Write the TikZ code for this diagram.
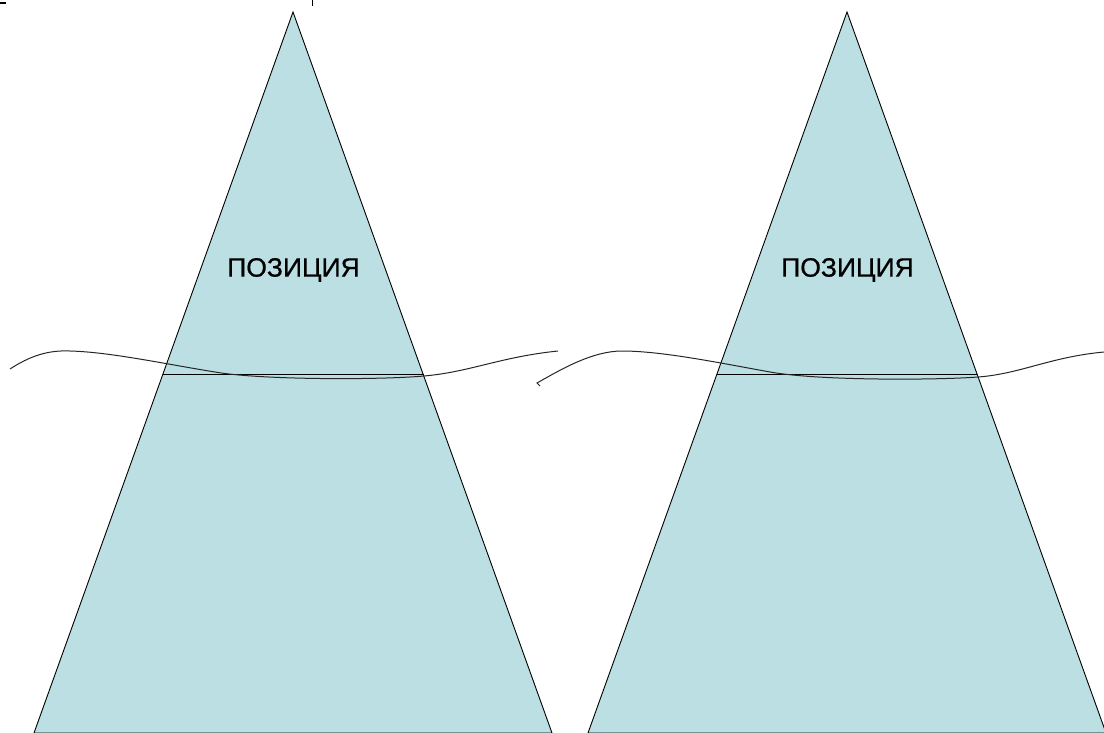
\documentclass[tikz,border=0pt]{standalone}
\usepackage{fontspec}
\setmainfont{Liberation Sans}
\newfontfamily\lblfont[FakeBold=0.7]{Liberation Sans}
\definecolor{ice}{RGB}{187,223,226}
\begin{document}
\begin{tikzpicture}[x=1pt,y=-1pt,
  berg/.style={fill=ice,draw=black,line width=0.9pt,line join=miter},
  wave/.style={draw=black!85,line width=1pt},
  lbl/.style={font=\lblfont\fontsize{26.5}{30}\selectfont,text=black}]
\useasboundingbox (0,0) rectangle (1104,733);
% tiny fragments at top
\fill (0,2) rectangle (6,4.3);
\draw[line width=0.8pt] (312,0) -- (312,6);
% left triangle
\path[berg] (293,12) -- (552,733) -- (34,733) -- cycle;
\draw[line width=0.9pt] (163,374) -- (424,374);
% right triangle
\path[berg] (847,12) -- (1106,733) -- (588,733) -- cycle;
\draw[line width=0.9pt] (717,374) -- (977,374);
% waves
\draw[wave] (10,369) .. controls (30,356) and (48,350) .. (70,351)
  .. controls (110,352) and (165,364) .. (215,372)
  .. controls (260,380) and (380,380) .. (424,376)
  .. controls (470,372) and (500,357) .. (558,351);
\draw[wave] (540,386) -- (537,383) .. controls (560,370) and (592,351) .. (622,351)
  .. controls (662,351) and (720,363) .. (770,372)
  .. controls (820,381) and (940,380) .. (978,377)
  .. controls (1020,374) and (1050,357) .. (1104,352);
% labels
\node[lbl] (p1) at (293.5,270) {ПОЗИЦИЯ};
\node[lbl] (p2) at (847.5,270) {ПОЗИЦИЯ};
\end{tikzpicture}
\end{document}
